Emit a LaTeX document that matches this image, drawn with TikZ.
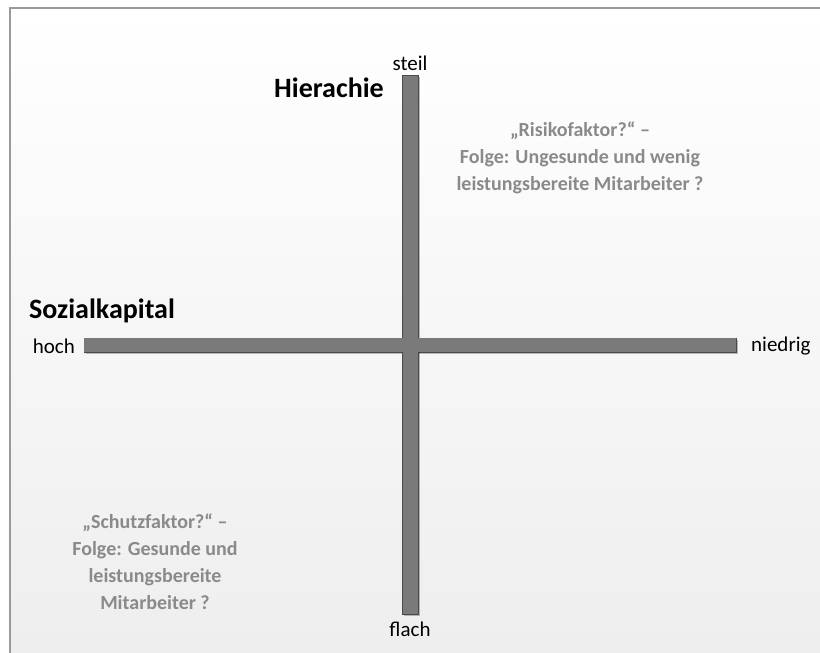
\documentclass[tikz,border=0pt]{standalone}
\usepackage{fontspec}
\setmainfont{Carlito}
\usetikzlibrary{shadows}
\definecolor{barfill}{HTML}{7A7A7A}
\definecolor{barline}{HTML}{4A4A4A}
\definecolor{notegray}{HTML}{8A8A8A}
\definecolor{framegray}{HTML}{9A9A9A}
\definecolor{bgbottom}{HTML}{EEEEEE}
\tikzset{
  barshape/.style={rectangle, draw=barline, line width=0.8pt, fill=barfill, inner sep=0pt,
    drop shadow={shadow xshift=1.5pt, shadow yshift=-1.5pt, opacity=0.25, fill=black}},
  axislabel/.style={font=\fontsize{21}{24}\selectfont, text=black, inner sep=0pt},
  title/.style={font=\fontsize{28}{32}\selectfont\bfseries, text=black, inner sep=0pt},
  note/.style={font=\fontsize{20}{27}\selectfont\bfseries, text=notegray, align=center, inner sep=0pt}
}
\begin{document}
\begin{tikzpicture}[x=1pt,y=-1pt]
  % canvas and soft vertical gradient
  \useasboundingbox (0,0) rectangle (820,653);
  \shade[top color=white, bottom color=bgbottom] (10,8) rectangle (821,654);
  \draw[framegray, line width=1.6pt] (10,654) -- (10,8) -- (821,8);

  % the two axes
  \node[barshape, minimum width=652pt, minimum height=14pt] (hbar) at (410,345) {};
  \node[barshape, minimum width=16pt, minimum height=539pt] (vbar) at (410,344.5) {};
  % hide the outline where the bars cross
  \fill[barfill] ([xshift=0.4pt,yshift=-0.4pt]hbar.north west) rectangle ([xshift=-0.4pt,yshift=0.4pt]hbar.south east);

  % axis end labels
  \node[axislabel, anchor=south] (steil) at (410,71) {steil};
  \node[axislabel, anchor=north] (flach) at (410,622) {flach};
  \node[axislabel, anchor=east] (hoch) at (75,346) {hoch};
  \node[axislabel, anchor=west] (niedrig) at (751,346) {niedrig};

  % axis titles
  \node[title] (hier) at (329,88) {Hierachie};
  \node[title, anchor=west] (sozial) at (29,311) {Sozialkapital};

  % quadrant notes
  \node[note] (risk) at (580,158) {„Risikofaktor?“ –\\Folge: Ungesunde und wenig\\leistungsbereite Mitarbeiter ?};
  \node[note] (protect) at (155,562) {„Schutzfaktor?“ –\\Folge: Gesunde und\\leistungsbereite\\Mitarbeiter ?};
\end{tikzpicture}
\end{document}
